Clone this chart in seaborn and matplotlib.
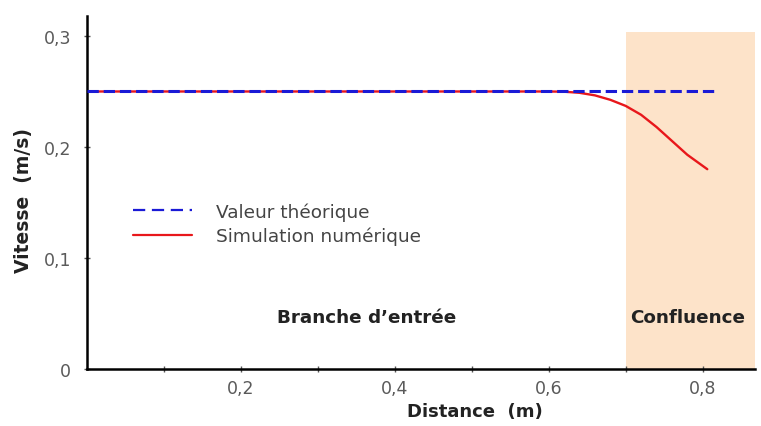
import matplotlib
matplotlib.use("Agg")
import matplotlib.pyplot as plt
import seaborn as sns
import pandas as pd
from matplotlib.ticker import FixedLocator
from matplotlib.lines import Line2D

# Data
theo_x = [0.0, 0.82]
theo_y = [0.25, 0.25]
sim_x = [0.0, 0.60, 0.62, 0.64, 0.66, 0.68, 0.70, 0.72, 0.74, 0.76, 0.78, 0.80, 0.806]
sim_y = [0.25, 0.25, 0.2498, 0.2488, 0.2465, 0.2425, 0.2370, 0.2290, 0.2180, 0.2055, 0.1930, 0.1830, 0.1800]
xticks = [0.2, 0.4, 0.6, 0.8]
xticklabels = ["0,2", "0,4", "0,6", "0,8"]
yticks = [0, 0.1, 0.2, 0.3]
yticklabels = ["0", "0,1", "0,2", "0,3"]
zone_start, zone_end, zone_top = 0.70, 0.868, 0.304

sns.set_style("white")
plt.rcParams['font.family'] = ['DejaVu Sans']

fig = plt.figure(figsize=(7.61, 4.27), dpi=100)
ax = fig.add_axes([87/761, 1-370/427, (755-87)/761, (370-17)/427])
ymax = 0.318

ax.axvspan(zone_start, zone_end, ymin=0, ymax=zone_top/ymax, color="#fde3c9", lw=0, zorder=0)

blue = "#1a1ad6"
red = "#e8171b"
df_sim = pd.DataFrame({"x": sim_x, "y": sim_y})
df_theo = pd.DataFrame({"x": theo_x, "y": theo_y})
sns.lineplot(data=df_sim, x="x", y="y", ax=ax, color=red, lw=1.7,
             zorder=2, sort=False, legend=False)
sns.lineplot(data=df_theo, x="x", y="y", ax=ax, color=blue, lw=2.2,
             dashes=(5, 4.3), linestyle="--", zorder=3, legend=False)

ax.set_xlim(0, 0.868)
ax.set_ylim(0, ymax)
for s in ["top", "right"]:
    ax.spines[s].set_visible(False)
for s in ["left", "bottom"]:
    ax.spines[s].set_color("black")
    ax.spines[s].set_linewidth(1.8)

ax.xaxis.set_major_locator(FixedLocator(xticks))
ax.set_xticklabels(xticklabels)
ax.xaxis.set_minor_locator(FixedLocator([0.1, 0.3, 0.5, 0.7]))
ax.yaxis.set_major_locator(FixedLocator(yticks))
ax.set_yticklabels(yticklabels)
ax.tick_params(axis="both", which="both", bottom=True, left=True, direction="inout",
               length=5, width=1, colors="#555555", labelsize=12.5, labelcolor="#5a5a5a")
ax.tick_params(axis="x", pad=5)
ax.tick_params(axis="y", pad=9)

ax.set_xlabel("Distance  (m)", fontsize=13, fontweight="bold", color="#222222")
ax.xaxis.set_label_coords(0.58, -0.093)
ax.set_ylabel("Vitesse  (m/s)", fontsize=13.5, fontweight="bold", color="#222222")
ax.yaxis.set_label_coords(-0.081, 0.48)

ax.text(0.363, 0.047, "Branche d’entrée", fontsize=13.2, fontweight="bold",
        color="#222222", ha="center", va="center")
ax.text(0.781, 0.047, "Confluence", fontsize=13.2, fontweight="bold",
        color="#222222", ha="center", va="center")

handles = [Line2D([], [], color=blue, lw=1.6, dashes=(5.5, 3)),
           Line2D([], [], color=red, lw=1.6)]
labels = ["Valeur théorique", "Simulation numérique"]
ax.legend(handles, labels, loc="upper left", bbox_to_anchor=(0.069, 0.473),
          frameon=False, fontsize=13.3, handlelength=3.2, handletextpad=1.3,
          labelspacing=0.34, labelcolor="#444444", borderaxespad=0, borderpad=0)

fig.savefig("out.png", dpi=100)
